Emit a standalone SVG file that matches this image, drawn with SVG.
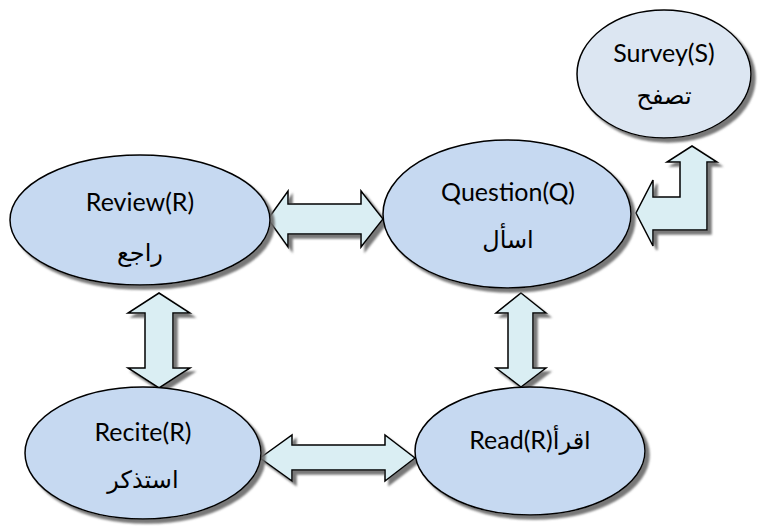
<svg xmlns="http://www.w3.org/2000/svg" width="784" height="531" viewBox="0 0 784 531">
<defs>
<filter id="sh" x="-10%" y="-10%" width="130%" height="130%">
<feDropShadow dx="4" dy="4" stdDeviation="1" flood-color="#6b6b6b" flood-opacity="0.9"/>
</filter>
</defs>
<style>
.node ellipse{fill:#C6D9F1;stroke:#000;stroke-width:1.5;filter:url(#sh)}
#survey ellipse{fill:#DCE6F2}
.arr path{fill:#DAEEF3;stroke:#000;stroke-width:1.5;stroke-linejoin:miter;filter:url(#sh)}
text{font-family:Lato,"DejaVu Sans",sans-serif;font-size:25px;fill:#000;text-anchor:middle}
.ar{font-size:24px}
</style>
<rect width="784" height="531" fill="#fff"/>
<g id="connectors" class="arr">
<path d="M268,219 L288,191 L288,204 L361,204 L361,191 L383,219 L361,247 L361,234 L288,234 L288,247 Z"/>
<path d="M159,293 L190,313 L173,313 L173,368 L190,368 L159,388 L128,368 L145,368 L145,313 L128,313 Z"/>
<path d="M521,293 L546,313 L533,313 L533,368 L546,368 L521,387 L496,368 L508,368 L508,313 L496,313 Z"/>
<path d="M260,458 L292,435 L292,445 L385,445 L385,435 L415,458 L385,481 L385,470 L292,470 L292,481 Z"/>
<path d="M692,146 L717,162 L707,162 L707,230 L653,230 L653,246 L636,213 L653,180 L653,197 L680,197 L680,162 L667,162 Z"/>
</g>
<g id="survey" class="node"><ellipse cx="664" cy="74" rx="87" ry="64"/><text x="664" y="62">Survey(S)</text><text class="ar" x="664" y="104">تصفح</text></g>
<g id="question" class="node"><ellipse cx="507" cy="214" rx="124" ry="74"/><text x="508" y="201">Question(Q)</text><text class="ar" x="508" y="248">اسأل</text></g>
<g id="review" class="node"><ellipse cx="140" cy="220" rx="130" ry="65"/><text x="140" y="211">Review(R)</text><text class="ar" x="140" y="261">راجع</text></g>
<g id="recite" class="node"><ellipse cx="143" cy="453" rx="118" ry="66"/><text x="143" y="441">Recite(R)</text><text class="ar" x="143" y="488">استذكر</text></g>
<g id="read" class="node"><ellipse cx="530" cy="451" rx="115" ry="64"/><text x="530" y="449">Read(R)<tspan class="ar">اقرأ</tspan></text></g>
</svg>
